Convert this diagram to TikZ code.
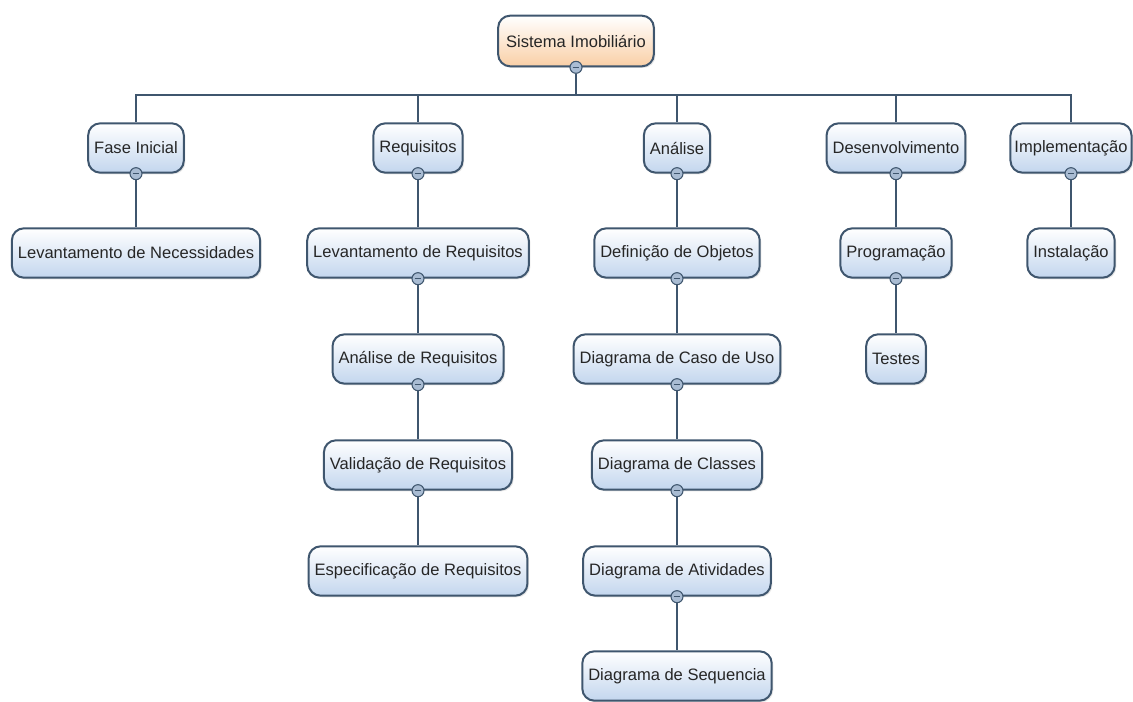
\documentclass[tikz,border=0pt]{standalone}
\usepackage{fontspec}
\setmainfont{Liberation Sans}
\usetikzlibrary{shadows,backgrounds}
\definecolor{boxline}{HTML}{3F566E}
\definecolor{boxbottom}{HTML}{C3D6EE}
\definecolor{rootbottom}{HTML}{F9CFA6}
\definecolor{dotfill}{HTML}{A9BCD3}

\begin{document}
\begin{tikzpicture}[x=0.75pt, y=-0.75pt]
		\tikzstyle{every node}=[font=\fontsize{12.4}{14}\selectfont, text=black!85]
		\tikzstyle{topic}=[draw=boxline, line width=1.5pt, rounded corners=9pt, top color=white, bottom color=boxbottom, minimum height=37pt, inner xsep=4.5pt, drop shadow={opacity=.2, shadow xshift=1.2pt, shadow yshift=-1.2pt}]
		\tikzstyle{rootbox}=[topic, bottom color=rootbottom, inner xsep=6pt, minimum height=38pt]
		\tikzstyle{fold}=[circle, draw=boxline, line width=.8pt, fill=dotfill, minimum size=9pt, inner sep=0pt, path picture={\draw[boxline, line width=1.1pt] ([xshift=-2.5pt]path picture bounding box.center) -- ([xshift=2.5pt]path picture bounding box.center);}]
		\tikzstyle{link}=[draw=boxline, line width=2pt]
    \useasboundingbox (0,0) rectangle (1133,702);

		% root
		\node[rootbox] (sistema) at (576,41) {Sistema Imobiliário};
		\coordinate (bus) at (576,95);

		% phases
		\node[topic] (fase) at (136,148) {Fase Inicial};
		\node[topic] (requisitos) at (418,148) {Requisitos};
		\node[topic] (analise) at (677,148) {Análise};
		\node[topic] (desenv) at (896,148) {Desenvolvimento};
		\node[topic, inner xsep=3pt] (implem) at (1071,148) {Implementação};

		% tasks
		\node[topic] (levnec) at (136,253) {Levantamento de Necessidades};

		\node[topic] (levreq) at (418,253) {Levantamento de Requisitos};
		\node[topic] (anareq) at (418,359) {Análise de Requisitos};
		\node[topic] (valreq) at (418,465) {Validação de Requisitos};
		\node[topic] (espreq) at (418,571) {Especificação de Requisitos};

		\node[topic] (defobj) at (677,253) {Definição de Objetos};
		\node[topic] (casouso) at (677,359) {Diagrama de Caso de Uso};
		\node[topic] (classes) at (677,465) {Diagrama de Classes};
		\node[topic] (ativ) at (677,571) {Diagrama de Atividades};
		\node[topic] (sequencia) at (677,676) {Diagrama de Sequencia};

		\node[topic] (program) at (896,253) {Programação};
		\node[topic] (testes) at (896,359) {Testes};

		\node[topic] (instal) at (1071,253) {Instalação};

		% collapse markers
		\node[fold] (sistemadot) at (sistema.south) {};
		\node[fold] (fasedot) at (fase.south) {};
		\node[fold] (requisitosdot) at (requisitos.south) {};
		\node[fold] (analisedot) at (analise.south) {};
		\node[fold] (desenvdot) at (desenv.south) {};
		\node[fold] (implemdot) at (implem.south) {};
		\node[fold] (levreqdot) at (levreq.south) {};
		\node[fold] (anareqdot) at (anareq.south) {};
		\node[fold] (valreqdot) at (valreq.south) {};
		\node[fold] (defobjdot) at (defobj.south) {};
		\node[fold] (casousodot) at (casouso.south) {};
		\node[fold] (classesdot) at (classes.south) {};
		\node[fold] (ativdot) at (ativ.south) {};
		\node[fold] (programdot) at (program.south) {};

		\begin{scope}[on background layer]
		\draw[link] (sistemadot) -- (bus);
		\draw[link] (bus) -| (fase.north);
		\draw[link] (bus) -| (requisitos.north);
		\draw[link] (bus) -| (analise.north);
		\draw[link] (bus) -| (desenv.north);
		\draw[link] (bus) -| (implem.north);

		\draw[link] (fasedot) -- (levnec);
		\draw[link] (requisitosdot) -- (levreq);
		\draw[link] (levreqdot) -- (anareq);
		\draw[link] (anareqdot) -- (valreq);
		\draw[link] (valreqdot) -- (espreq);
		\draw[link] (analisedot) -- (defobj);
		\draw[link] (defobjdot) -- (casouso);
		\draw[link] (casousodot) -- (classes);
		\draw[link] (classesdot) -- (ativ);
		\draw[link] (ativdot) -- (sequencia);
		\draw[link] (desenvdot) -- (program);
		\draw[link] (programdot) -- (testes);
		\draw[link] (implemdot) -- (instal);
		\end{scope}
	\end{tikzpicture}
\end{document}
